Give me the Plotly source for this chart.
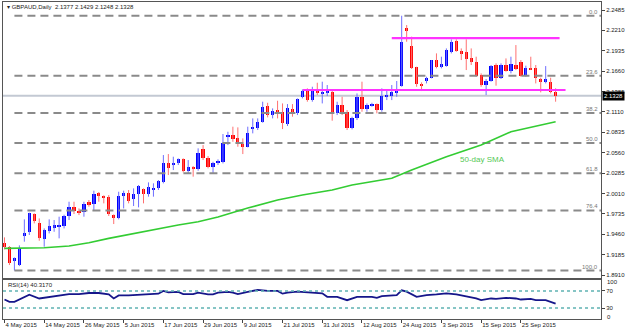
import plotly.graph_objects as go

# ---------------- data ----------------
# Daily GBPAUD candles, one row per trading day starting 4 May 2015
open_ = [1.9346, 1.9292, 1.9103, 1.9045, 1.9436, 1.9494, 1.9733, 1.9616, 1.9391, 1.9508,
         1.9557, 1.9566, 1.9571, 1.9710, 1.9823, 1.9778, 1.9764, 1.9899, 1.9868, 2.0012,
         1.9971, 1.9967, 1.9719, 1.9683, 1.9976, 2.0021, 1.9931, 2.0003, 2.0066, 2.0003,
         2.0057, 2.0079, 2.0169, 2.0416, 2.0407, 2.0425, 2.0475, 2.0317, 2.0371, 2.0335,
         2.0605, 2.0483, 2.0362, 2.0416, 2.0438, 2.0785, 2.0798, 2.0753, 2.0672, 2.0641,
         2.0893, 2.0888, 2.0978, 2.1190, 2.1068, 2.1136, 2.1113, 2.0947, 2.1145, 2.1091,
         2.1315, 2.1396, 2.1270, 2.1396, 2.1360, 2.1369, 2.1383, 2.1091, 2.1203, 2.1113,
         2.0888, 2.1023, 2.1315, 2.1145, 2.1203, 2.1216, 2.1136, 2.1315, 2.1329, 2.1360,
         2.1459, 2.2237, 2.1999, 2.1711, 2.1486, 2.1527, 2.1572, 2.1810, 2.1720, 2.1729,
         2.1922, 2.2071, 2.1931, 2.1922, 2.1841, 2.1779, 2.1608, 2.1473, 2.1527, 2.1743,
         2.1572, 2.1743, 2.1666, 2.1743, 2.1788, 2.1608, 2.1707, 2.1698, 2.1554, 2.1509,
         2.1518, 2.1377]
high = [1.9418, 1.9301, 1.9148, 1.9310, 1.9661, 1.9751, 1.9742, 1.9674, 1.9539, 1.9661,
        1.9652, 1.9697, 1.9724, 1.9899, 1.9899, 1.9809, 1.9899, 1.9922, 2.0048, 2.0030,
        1.9985, 1.9989, 1.9728, 2.0034, 2.0048, 2.0057, 2.0079, 2.0124, 2.0079, 2.0160,
        2.0147, 2.0192, 2.0529, 2.0542, 2.0506, 2.0484, 2.0484, 2.0461, 2.0380, 2.0619,
        2.0663, 2.0515, 2.0438, 2.0470, 2.0812, 2.0843, 2.0911, 2.0902, 2.0753, 2.0911,
        2.1023, 2.1023, 2.1248, 2.1234, 2.1158, 2.1261, 2.1225, 2.1216, 2.1216, 2.1293,
        2.1414, 2.1428, 2.1450, 2.1504, 2.1518, 2.1473, 2.1405, 2.1248, 2.1315, 2.1136,
        2.1046, 2.1360, 2.1518, 2.1225, 2.1234, 2.1225, 2.1428, 2.1405, 2.1473, 2.1527,
        2.2408, 2.2282, 2.2125, 2.1720, 2.1509, 2.1585, 2.1810, 2.1900, 2.1855, 2.1967,
        2.2089, 2.2089, 2.1967, 2.2089, 2.1967, 2.1855, 2.1630, 2.1554, 2.1743, 2.1765,
        2.1765, 2.1832, 2.1855, 2.2012, 2.1810, 2.1734, 2.1855, 2.1743, 2.1572, 2.1729,
        2.1572, 2.1429]
low = [1.9256, 1.9045, 1.8971, 1.9031, 1.9360, 1.9450, 1.9607, 1.9373, 1.9292, 1.9472,
       1.9494, 1.9405, 1.9539, 1.9652, 1.9733, 1.9719, 1.9697, 1.9832, 1.9778, 1.9899,
       1.9877, 1.9706, 1.9598, 1.9661, 1.9809, 1.9877, 1.9841, 1.9823, 1.9877, 1.9967,
       1.9967, 2.0057, 2.0147, 2.0259, 2.0326, 2.0394, 2.0295, 2.0281, 2.0237, 2.0317,
       2.0461, 2.0349, 2.0281, 2.0394, 2.0416, 2.0663, 2.0708, 2.0641, 2.0542, 2.0632,
       2.0821, 2.0866, 2.0965, 2.1037, 2.1023, 2.1023, 2.0879, 2.0920, 2.1046, 2.1068,
       2.1293, 2.1248, 2.1248, 2.1338, 2.1225, 2.1324, 2.0992, 2.1068, 2.1068, 2.0866,
       2.0875, 2.1001, 2.1113, 2.1113, 2.1181, 2.1091, 2.1113, 2.1270, 2.1270, 2.1315,
       2.1450, 2.2057, 2.1689, 2.1450, 2.1392, 2.1495, 2.1563, 2.1698, 2.1698, 2.1720,
       2.1900, 2.1922, 2.1810, 2.1675, 2.1743, 2.1585, 2.1450, 2.1338, 2.1518, 2.1464,
       2.1554, 2.1653, 2.1630, 2.1675, 2.1585, 2.1585, 2.1675, 2.1495, 2.1374, 2.1495,
       2.1360, 2.1248]
close = [1.9283, 1.9076, 1.9135, 1.9279, 1.9481, 1.9742, 1.9638, 1.9405, 1.9517, 1.9571,
         1.9580, 1.9580, 1.9710, 1.9823, 1.9778, 1.9760, 1.9868, 1.9854, 2.0003, 1.9976,
         1.9962, 1.9728, 1.9683, 1.9976, 2.0021, 1.9913, 2.0003, 2.0111, 2.0003, 2.0102,
         2.0088, 2.0178, 2.0416, 2.0349, 2.0425, 2.0470, 2.0317, 2.0371, 2.0335, 2.0551,
         2.0483, 2.0371, 2.0416, 2.0447, 2.0686, 2.0794, 2.0740, 2.0672, 2.0641, 2.0821,
         2.0906, 2.0978, 2.1181, 2.1068, 2.1127, 2.1100, 2.0956, 2.1158, 2.1091, 2.1279,
         2.1396, 2.1270, 2.1405, 2.1360, 2.1383, 2.1396, 2.1091, 2.1203, 2.1091, 2.0888,
         2.1023, 2.1315, 2.1145, 2.1203, 2.1216, 2.1136, 2.1324, 2.1338, 2.1374, 2.1392,
         2.2048, 2.2201, 2.1698, 2.1482, 2.1464, 2.1563, 2.1810, 2.1720, 2.1752, 2.1945,
         2.2048, 2.1936, 2.1886, 2.1823, 2.1779, 2.1599, 2.1473, 2.1527, 2.1734, 2.1572,
         2.1743, 2.1666, 2.1752, 2.1684, 2.1599, 2.1707, 2.1684, 2.1563, 2.1509, 2.1554,
         2.1374, 2.1328]

# 50-day simple moving average, read at selected bars
sma_bar = [0, 8, 13, 17, 21, 26, 31, 35, 39, 43, 49, 55, 60, 66, 70, 74, 78, 82, 89, 96, 102, 111]
sma_val = [1.9270, 1.9278, 1.9301, 1.9346, 1.9405, 1.9473, 1.9540, 1.9585, 1.9629, 1.9693,
           1.9814, 1.9922, 1.9989, 2.0057, 2.0124, 2.0169, 2.0215, 2.0327, 2.0506, 2.0664,
           2.0843, 2.0978]

# RSI(14), read at selected bars
rsi_bar = [0, 1, 2, 3, 5, 7, 9, 11, 13, 15, 17, 19, 21, 22, 23, 25, 27, 29, 31, 32, 33, 35,
           36, 38, 39, 41, 42, 43, 45, 46, 47, 49, 51, 53, 55, 56, 57, 59, 61, 63, 64, 65,
           67, 69, 71, 74, 75, 76, 79, 80, 81, 83, 85, 87, 89, 91, 93, 95, 96, 98, 99, 101,
           103, 104, 106, 107, 109, 110, 111]
rsi_val = [50.0, 44.4, 44.4, 50.0, 61.2, 52.4, 55.6, 59.6, 62.8, 62.8, 65.3, 65.3, 62.0, 52.4,
           59.6, 59.6, 61.2, 62.0, 63.7, 70.1, 66.9, 67.7, 62.8, 62.8, 66.1, 62.0, 62.0, 66.1,
           67.7, 66.1, 62.8, 67.7, 72.5, 70.1, 70.1, 63.7, 66.1, 68.5, 67.0, 66.1, 64.5, 56.4,
           56.4, 48.4, 56.4, 56.4, 54.0, 58.0, 60.4, 71.7, 68.5, 56.4, 60.4, 62.0, 64.5, 62.0,
           58.0, 52.4, 48.4, 52.4, 51.6, 54.0, 52.4, 50.0, 51.6, 48.4, 48.4, 43.6, 40.3170]

# Fibonacci retracement of the May low to the 24 Aug high
fib_low_bar = 2
fib_high = 2.2408
fib_low = 1.8971
fib_ratios = [0.0, 23.6, 38.2, 50.0, 61.8, 76.4, 100.0]

# Consolidation range (magenta)
range_top = 2.2107
range_top_bars = [78.0, 111.8]
range_bottom = 2.1406
range_bottom_bars = [60.1, 113.0]

# Axis labels
date_tick_bars = [0, 8, 16, 24, 32, 40, 48, 56, 64, 72, 80, 88, 96, 104]
date_tick_text = ["4 May 2015", "14 May 2015", "26 May 2015", "5 Jun 2015", "17 Jun 2015",
                  "29 Jun 2015", "9 Jul 2015", "21 Jul 2015", "31 Jul 2015", "12 Aug 2015",
                  "24 Aug 2015", "3 Sep 2015", "15 Sep 2015", "25 Sep 2015"]
price_ticks = [1.8910, 1.9185, 1.9460, 1.9735, 2.0010, 2.0285, 2.0560, 2.0835,
               2.1110, 2.1385, 2.1660, 2.1935, 2.2210, 2.2485]
rsi_ticks = [70, 30]

# ---------------- figure ----------------
FONT = "Liberation Sans"
UP, DOWN = "#0000ff", "#ff0000"
UP_WICK, DOWN_WICK = "#6e6eff", "#ff7070"

fig = go.Figure()
n = len(close)
bars = list(range(n))

# wicks
for is_up, color in ((True, UP_WICK), (False, DOWN_WICK)):
    wx, wy = [], []
    for i in bars:
        if (close[i] >= open_[i]) == is_up:
            wx += [i, i, None]
            wy += [low[i], high[i], None]
    fig.add_trace(go.Scatter(x=wx, y=wy, mode="lines", line=dict(color=color, width=1),
                             hoverinfo="skip", showlegend=False, xaxis="x", yaxis="y"))

# bodies
MIN_BODY = 0.0012
for is_up, color in ((True, UP), (False, DOWN)):
    bx, base, height = [], [], []
    for i in bars:
        if (close[i] >= open_[i]) == is_up:
            lo = min(open_[i], close[i])
            h = abs(close[i] - open_[i])
            if h < MIN_BODY:
                lo -= (MIN_BODY - h) / 2
                h = MIN_BODY
            bx.append(i)
            base.append(lo)
            height.append(h)
    fig.add_trace(go.Bar(x=bx, y=height, base=base, width=0.66, marker_color=color,
                         marker_line_width=0, showlegend=False, xaxis="x", yaxis="y"))

X_MIN, X_MAX = -0.30, 120.14

# Fibonacci levels
fib_levels = [fib_high - r / 100 * (fib_high - fib_low) for r in fib_ratios]
for r, lvl in zip(fib_ratios, fib_levels):
    fig.add_trace(go.Scatter(x=[fib_low_bar, X_MAX], y=[lvl, lvl], mode="lines",
                             line=dict(color="#8a8a8a", width=2, dash="8px,5px"),
                             hoverinfo="skip", showlegend=False, xaxis="x", yaxis="y"))
    fig.add_annotation(x=1, xref="paper", xanchor="right", xshift=-1,
                       y=lvl, yref="y", yanchor="bottom", yshift=-1,
                       text=f"{r:.1f}", showarrow=False,
                       font=dict(family=FONT, size=6, color="#777777"))

# current price line
fig.add_shape(type="line", xref="x", yref="y", x0=X_MIN, x1=X_MAX,
              y0=close[-1], y1=close[-1], line=dict(color="#c3c9d3", width=2), layer="below")

# 50-day SMA
fig.add_trace(go.Scatter(x=sma_bar, y=sma_val, mode="lines",
                         line=dict(color="#33cc33", width=1.6), hoverinfo="skip",
                         showlegend=False, xaxis="x", yaxis="y"))
fig.add_annotation(x=96.2, y=2.0462, xref="x", yref="y", text="50-day SMA", showarrow=False,
                   font=dict(family=FONT, size=8, color="#55c855"))

# range lines
fig.add_trace(go.Scatter(x=range_top_bars, y=[range_top] * 2, mode="lines",
                         line=dict(color="#ff33ff", width=2.2), hoverinfo="skip",
                         showlegend=False, xaxis="x", yaxis="y"))
fig.add_trace(go.Scatter(x=range_bottom_bars, y=[range_bottom] * 2, mode="lines",
                         line=dict(color="#ff33ff", width=2.2), hoverinfo="skip",
                         showlegend=False, xaxis="x", yaxis="y"))

# RSI panel
for lvl in rsi_ticks:
    fig.add_shape(type="line", xref="x2", yref="y2", x0=X_MIN, x1=X_MAX, y0=lvl, y1=lvl,
                  line=dict(color="#5fb3b3", width=1.4, dash="dot"))
fig.add_trace(go.Scatter(x=rsi_bar, y=rsi_val, mode="lines",
                         line=dict(color="#16168a", width=1.8), hoverinfo="skip",
                         showlegend=False, xaxis="x2", yaxis="y2"))

# header texts
fig.add_annotation(x=0, y=1, xref="paper", yref="paper", xanchor="left", yanchor="top",
                   xshift=2, yshift=0, showarrow=False,
                   text="\u25BE GBPAUD,Daily  2.1377 2.1429 2.1248 2.1328",
                   font=dict(family=FONT, size=6, color="#222222"))
fig.add_annotation(x=0, y=95.8, xref="paper", yref="y2", xanchor="left", yanchor="top",
                   xshift=3, showarrow=False, text=f"RSI(14) {rsi_val[-1]:.4f}",
                   font=dict(family=FONT, size=6, color="#222222"))
for txt, yv in (("100", 91.0), ("0", 9.5)):
    fig.add_annotation(x=1, y=yv, xref="paper", yref="y2", xanchor="left", xshift=4,
                       showarrow=False, text=txt, font=dict(family=FONT, size=6, color="#222222"))

# last price marker on the axis
fig.add_annotation(x=1, xref="paper", xanchor="left", xshift=1, y=close[-1], yref="y",
                   text=f"{close[-1]:.4f}", showarrow=False, bgcolor="#000000",
                   borderpad=1, font=dict(family=FONT, size=6, color="#ffffff"))

axis_line = dict(showline=True, linecolor="#555555", linewidth=1, mirror=True,
                 showgrid=False, zeroline=False)

fig.update_layout(
    width=628, height=334,
    margin=dict(l=3, r=27, t=2, b=15),
    paper_bgcolor="#ffffff", plot_bgcolor="#ffffff",
    barmode="overlay", bargap=0,
    showlegend=False,
    xaxis=dict(domain=[0, 1], anchor="y", range=[X_MIN, X_MAX], showticklabels=False,
               ticks="", **axis_line),
    yaxis=dict(domain=[0.1293, 1], anchor="x", side="right", range=[1.8870, 2.2593],
               tickvals=price_ticks, ticktext=[f"{v:.4f}" for v in price_ticks],
               ticks="outside", ticklen=3, tickcolor="#444444",
               tickfont=dict(family=FONT, size=6, color="#222222"), **axis_line),
    xaxis2=dict(domain=[0, 1], anchor="y2", range=[X_MIN, X_MAX], matches="x",
                tickvals=date_tick_bars, ticktext=date_tick_text, tickangle=0,
                ticks="outside", ticklen=3, tickcolor="#444444",
                ticklabelposition="outside right",
                tickfont=dict(family=FONT, size=6, color="#222222"), **axis_line),
    yaxis2=dict(domain=[0, 0.1230], anchor="x2", side="right", range=[4.2, 95.8],
                tickvals=rsi_ticks, ticktext=[str(v) for v in rsi_ticks],
                ticks="outside", ticklen=3, tickcolor="#444444",
                tickfont=dict(family=FONT, size=6, color="#222222"), **axis_line),
)

fig.write_html("out.html")
